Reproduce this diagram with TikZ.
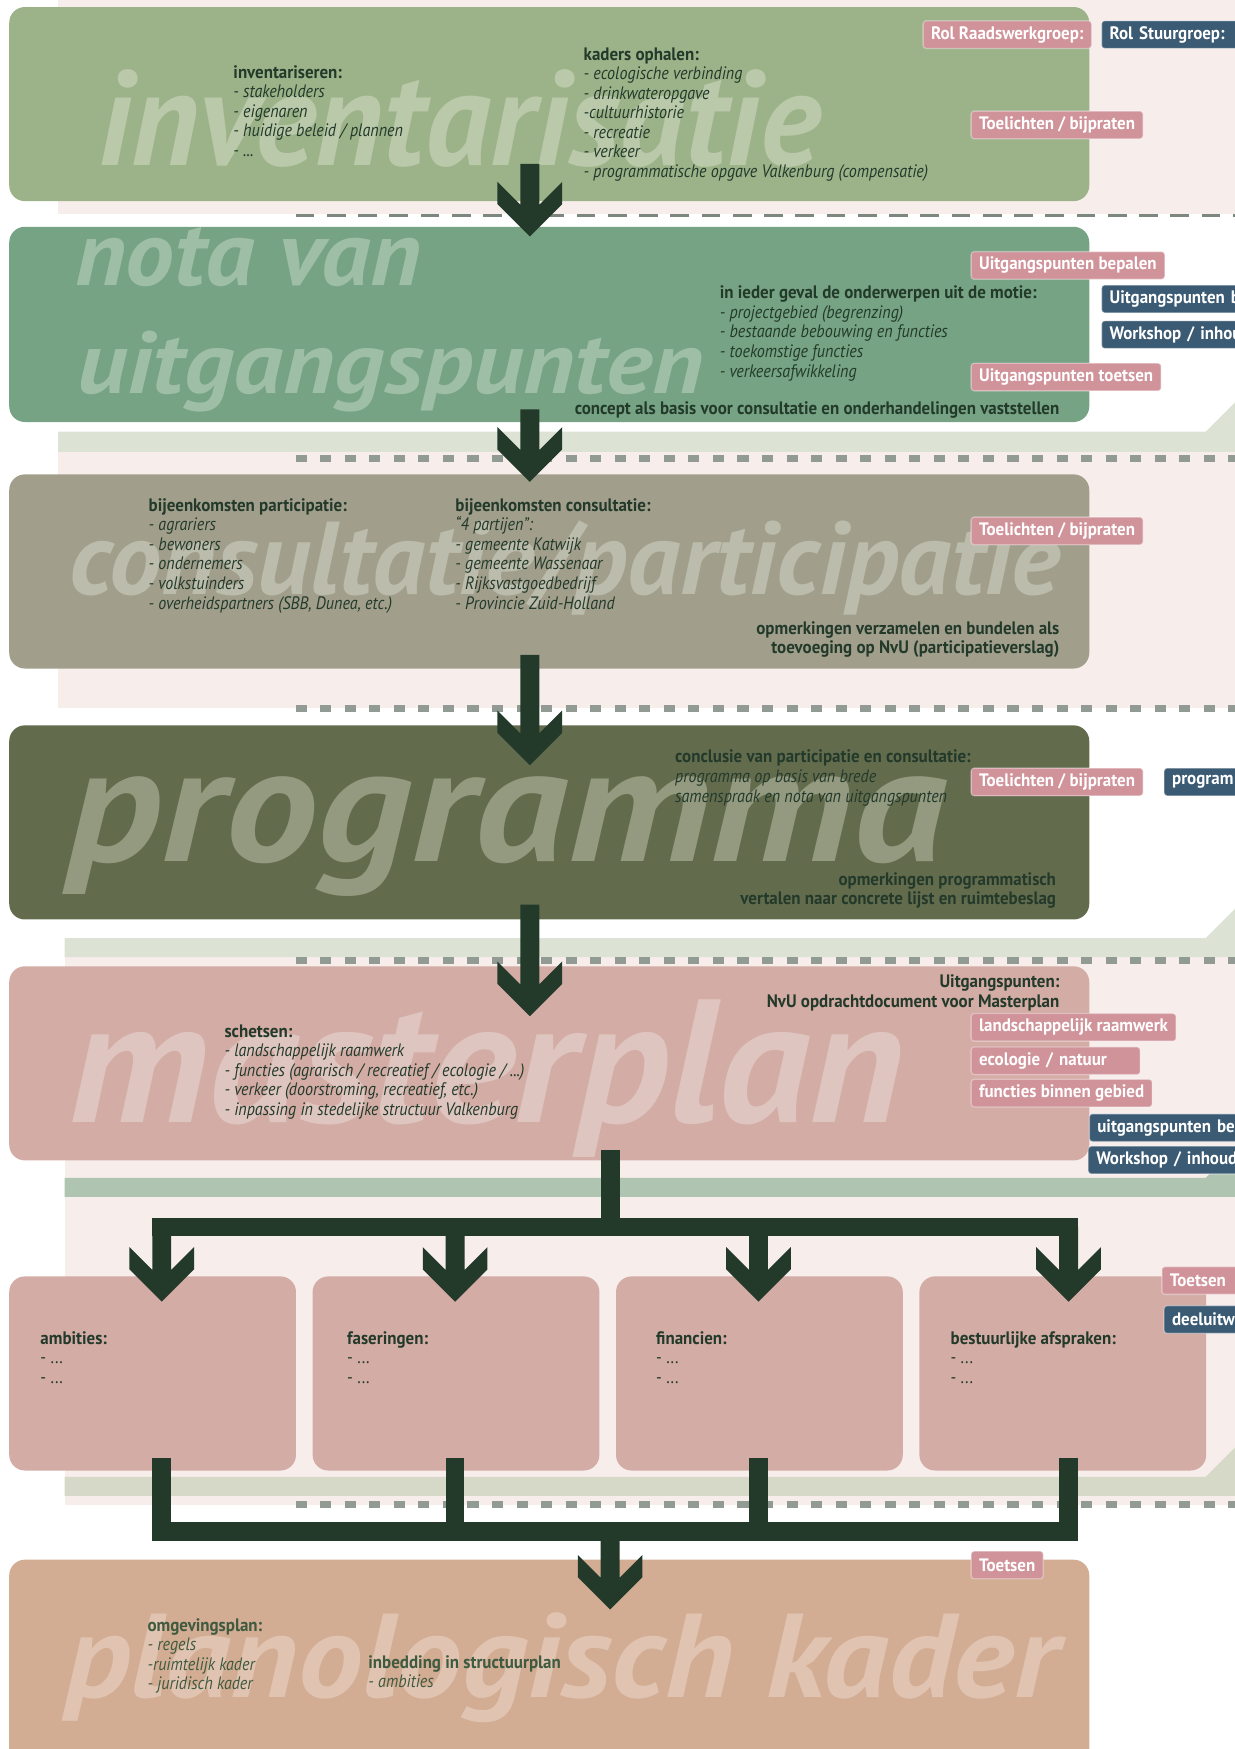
\documentclass[tikz,border=0pt]{standalone}
\usepackage{fontspec}
\setmainfont{PT Sans}[FakeStretch=0.89]
\newfontfamily\hb{PT Sans}[FakeStretch=0.94]
\newfontfamily\wmfont{PT Sans}
\newcommand{\wm}[3]{\resizebox{#1}{#2}{\wmfont\bfseries\itshape #3}}
\newcommand{\hd}[1]{{\hb\bfseries #1}}

\begin{document}
\begin{tikzpicture}[x=0.025cm,y=-0.025cm]
  \definecolor{bandpink}{HTML}{F7EDEB}
  \definecolor{bandlight}{HTML}{DCE3D5}
  \definecolor{bandmid}{HTML}{AFC5B1}
  \definecolor{bandgrey}{HTML}{D6D9C7}
  \definecolor{invgreen}{HTML}{9CB38A}
  \definecolor{notagreen}{HTML}{76A383}
  \definecolor{consgrey}{HTML}{A19F8C}
  \definecolor{progolive}{HTML}{636B4D}
  \definecolor{planrose}{HTML}{D3ACA5}
  \definecolor{kaderbrown}{HTML}{D2AC93}
  \definecolor{wminv}{HTML}{B9C9A9}
  \definecolor{wmnota}{HTML}{9EBFA5}
  \definecolor{wmcons}{HTML}{BCBCAC}
  \definecolor{wmprog}{HTML}{939A80}
  \definecolor{wmplan}{HTML}{DEC5C0}
  \definecolor{wmkader}{HTML}{E0C4B1}
  \definecolor{labpink}{HTML}{D0939A}
  \definecolor{labblue}{HTML}{3B5A73}
  \definecolor{darkgreen}{HTML}{233A2B}
  \definecolor{kadertext}{HTML}{3E5A3F}
  \tikzset{
    phase/.style={rounded corners=0.35cm,anchor=north west,inner sep=0,minimum width=24.2cm},
    subphase/.style={phase,minimum width=6.425cm,minimum height=4.35cm,fill=planrose},
    wmark/.style={anchor=base west,inner sep=0},
    txt/.style={anchor=base west,align=left,inner sep=0,text=darkgreen,font=\fontsize{11.5}{12.45}\selectfont},
    txtr/.style={txt,anchor=base east,align=right,font=\fontsize{11.5}{12.45}\selectfont\hb\bfseries},
    rolpink/.style={fill=labpink,draw=white,draw opacity=0.35,line width=0.03cm,text=white,
      font=\fontsize{11.5}{12}\selectfont\hb\bfseries,
      rounded corners=0.07cm,inner xsep=0.18cm,inner ysep=0,minimum height=0.62cm,anchor=west},
    rolblue/.style={rolpink,fill=labblue},
    cut/.style={text width=3.8cm,align=left},
    flowbar/.style={draw=darkgreen,line width=0.42cm},
    dashthin/.style={draw=black!30!bandmid!70!gray,line width=0.075cm,dash pattern=on 0.42cm off 0.28cm},
    dashsq/.style={draw=gray!60!bandmid,line width=0.15cm,dash pattern=on 0.25cm off 0.3cm},
    chevron/.pic={
      \fill[darkgreen] (0,0) -- (29,-29) -- (29,-49) -- (8.5,-28.5) -- (8.5,-#1)
        -- (-8.5,-#1) -- (-8.5,-28.5) -- (-29,-49) -- (-29,-29) -- cycle;
    },
  }
  \useasboundingbox (0,0) rectangle (1107,1568);

  % achtergrond
  \fill[bandpink] (52,0) rectangle (1107,192);
  \fill[bandpink] (52,405) rectangle (1107,635);
  \fill[bandpink] (58,858) rectangle (1107,1056);
  \fill[bandpink] (58,1073) rectangle (1107,1349);
  \foreach \x/\t/\b/\c in {52/387/405/bandlight, 58/841/858/bandlight, 58/1056/1073/bandmid, 58/1324/1341/bandgrey}{
    \fill[\c] (\x,\t) -- (1081,\t) -- (1107,\t-26) -- (1107,\b) -- (\x,\b) -- cycle;
  }
  \draw[dashthin] (265,193) -- (1107,193);
  \foreach \y in {411,635,861,1349}{
    \draw[dashsq] (265,\y) -- (1107,\y);
  }

  % fasen
  \node[phase,fill=invgreen,minimum height=4.35cm] (inv) at (8,6) {};
  \node[phase,fill=notagreen,minimum height=4.375cm] (nota) at (8,203) {};
  \node[phase,fill=consgrey,minimum height=4.35cm] (cons) at (8,425) {};
  \node[phase,fill=progolive,minimum height=4.35cm] (prog) at (8,650) {};
  \node[phase,fill=planrose,minimum height=4.35cm] (mplan) at (8,866) {};
  \node[subphase] (amb) at (8,1144) {};
  \node[subphase] (fas) at (280,1144) {};
  \node[subphase] (fin) at (552,1144) {};
  \node[subphase] (best) at (824,1144) {};
  \node[phase,fill=kaderbrown,minimum height=5.3cm] (kader) at (8,1398) {};

  \node[wmark,text=wminv] (wm1) at (88,148) {\wm{16.175cm}{2.15cm}{inventarisatie}};
  \node[wmark,text=wmnota] (wm2a) at (67,256) {\wm{7.75cm}{1.3cm}{nota van}};
  \node[wmark,text=wmnota] (wm2b) at (69,353) {\wm{14.025cm}{1.4cm}{uitgangspunten}};
  \node[wmark,text=wmcons] (wm3) at (62,533) {\wm{22.2cm}{1.65cm}{consultatie/participatie}};
  \node[wmark,text=wmprog] (wm4) at (60,772) {\wm{19.7cm}{1.9cm}{programma}};
  \node[wmark,text=wmplan] (wm5) at (62,1006) {\wm{18.7cm}{2.75cm}{masterplan}};
  \node[wmark,text=wmkader] (wm6) at (58,1522) {\wm{22.25cm}{1.9cm}{planologisch kader}};

  % teksten (anker op de laatste regel)
  \node[txt] (invl) at (209,140) {\hd{inventariseren:}\\\textit{- stakeholders}\\\textit{- eigenaren}\\
    \textit{- huidige beleid / plannen}\\\textit{- ...}};
  \node[txt] (invr) at (523,159) {\hd{kaders ophalen:}\\\textit{- ecologische verbinding}\\
    \textit{- drinkwateropgave}\\\textit{-cultuurhistorie}\\\textit{- recreatie}\\\textit{- verkeer}\\
    \textit{- programmatische opgave Valkenburg (compensatie)}};
  \node[txt] (notal) at (645,338) {\hd{in ieder geval de onderwerpen uit de motie:}\\
    \textit{- projectgebied (begrenzing)}\\\textit{- bestaande bebouwing en functies}\\
    \textit{- toekomstige functies}\\\textit{- verkeersafwikkeling}};
  \node[txtr] (notab) at (950,372) {concept als basis voor consultatie en onderhandelingen vaststellen};
  \node[txt] (consl) at (133,546) {\hd{bijeenkomsten participatie:}\\\textit{- agrariers}\\\textit{- bewoners}\\
    \textit{- ondernemers}\\\textit{- volkstuinders}\\\textit{- overheidspartners (SBB, Dunea, etc.)}};
  \node[txt] (consm) at (408,546) {\hd{bijeenkomsten consultatie:}\\\textit{“4 partijen”:}\\
    \textit{- gemeente Katwijk}\\\textit{- gemeente Wassenaar}\\\textit{- Rijksvastgoedbedrijf}\\
    \textit{- Provincie Zuid-Holland}};
  \node[txtr] (consb) at (950,586) {opmerkingen verzamelen en bundelen als\\toevoeging op NvU (participatieverslag)};
  \node[txt] (progl) at (605,719) {\hd{conclusie van participatie en consultatie:}\\
    \textit{programma op basis van brede}\\\textit{samenspraak en nota van uitgangspunten}};
  \node[txtr] (progb) at (947,811) {opmerkingen programmatisch\\vertalen naar concrete lijst en ruimtebeslag};
  \node[txtr] (mplant) at (950,903) {Uitgangspunten:\\NvU opdrachtdocument voor Masterplan};
  \node[txt] (mplanl) at (201,1000) {\hd{schetsen:}\\\textit{- landschappelijk raamwerk}\\
    \textit{- functies (agrarisch / recreatief / ecologie / ...)}\\
    \textit{- verkeer (doorstroming, recreatief, etc.)}\\\textit{- inpassing in stedelijke structuur Valkenburg}};
  \foreach \x/\n/\t in {36/ambt/ambities:, 311/fast/faseringen:, 588/fint/financien:, 852/bestt/bestuurlijke afspraken:}{
    \node[txt] (\n) at (\x,1240) {\hd{\t}\\- ...\\- ...};
  }
  \node[txt,text=kadertext] (kaderl) at (132,1515) {\hd{omgevingsplan:}\\\textit{- regels}\\
    \textit{-ruimtelijk kader}\\\textit{- juridisch kader}};
  \node[txt,text=kadertext] (kaderm) at (330,1513) {\hd{inbedding in structuurplan}\\\textit{- ambities}};

  % pijlen
  \pic at (475,212) {chevron=65};
  \pic at (475,432) {chevron=65};
  \pic at (475,686) {chevron=99};
  \pic at (475,911) {chevron=100};
  \coordinate (split) at (547,1100);
  \coordinate (merge) at (547,1373);
  \draw[flowbar] (mplan.south -| split) ++(0,-10) -- (split);
  \draw[flowbar] (136,1100) -- (966,1100);
  \draw[flowbar] (136,1373) -- (966,1373);
  \foreach \x in {145,408,680,958}{
    \pic at (\x,1167) {chevron=67};
    \draw[flowbar] (\x,1307) -- (\x,1373);
  }
  \pic at (547,1443) {chevron=71};

  % rollen
  \node[rolpink] (r1) at (827,31) {Rol Raadswerkgroep:};
  \node[rolblue,cut] (s1) at (987,31) {Rol Stuurgroep:};
  \node[rolpink] (r2) at (870,112) {Toelichten / bijpraten};
  \node[rolpink] (r3) at (870,238) {Uitgangspunten bepalen};
  \node[rolblue,cut] (s2) at (987,268) {Uitgangspunten b};
  \node[rolblue,cut] (s3) at (987,300) {Workshop / inhou};
  \node[rolpink] (r4) at (870,338) {Uitgangspunten toetsen};
  \node[rolpink] (r5) at (870,476) {Toelichten / bijpraten};
  \node[rolpink] (r6) at (870,701) {Toelichten / bijpraten};
  \node[rolblue,cut] (s4) at (1043,701) {program};
  \node[rolpink] (r7) at (870,921) {landschappelijk raamwerk};
  \node[rolpink,text width=3.43cm,align=left] (r8) at (870,951) {ecologie / natuur};
  \node[rolpink] (r9) at (870,980) {functies binnen gebied};
  \node[rolblue,cut] (s5) at (976,1011) {uitgangspunten be};
  \node[rolblue,cut] (s6) at (975,1040) {Workshop / inhoud};
  \node[rolpink,cut] (r10) at (1041,1148) {Toetsen};
  \node[rolblue,cut] (s7) at (1043,1183) {deeluitw};
  \node[rolpink] (r11) at (870,1403) {Toetsen};
\end{tikzpicture}
\end{document}
